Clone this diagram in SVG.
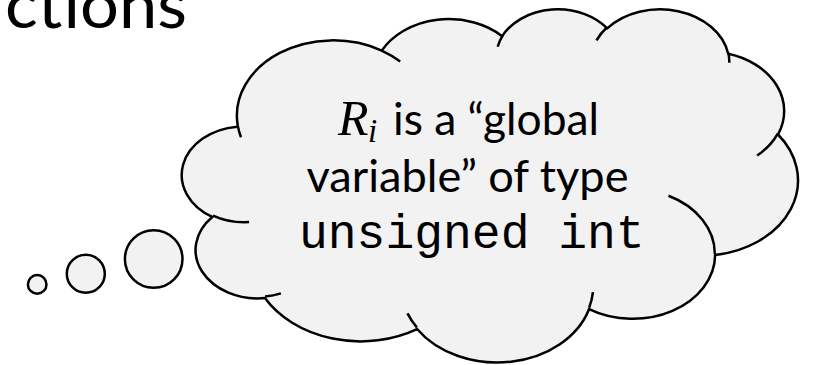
<svg xmlns="http://www.w3.org/2000/svg" width="813" height="365" viewBox="0 0 813 365">
<style>
.shape{fill:#F2F2F2;stroke:#000;stroke-width:2.5;stroke-linejoin:round}
.arc{fill:none;stroke:#000;stroke-width:2.5;stroke-linecap:butt}
.sans{font-family:Lato,"Open Sans","Liberation Sans",sans-serif;fill:#000}
.mono{font-family:"Liberation Mono","Courier New",monospace;fill:#000}
.math{font-family:"Liberation Serif","DejaVu Serif",serif;font-style:italic;fill:#000}
</style>
<rect width="813" height="365" fill="#FFFFFF"/>
<g id="title">
<text class="sans" x="5" y="28.3" font-size="66" textLength="182" lengthAdjust="spacingAndGlyphs">ctions</text>
</g>
<g id="connectors"></g>
<g id="thought-cloud">
<g id="bubbles">
<circle class="shape" cx="37.2" cy="284.4" r="9.3"/>
<circle class="shape" cx="85.8" cy="273.7" r="19"/>
<circle class="shape" cx="153.7" cy="259" r="28.8"/>
</g>
<path class="shape" d="M237.77 125.59 A96.22 75.11 0 0 1 381.76 50.66 A75.99 59.39 0 0 1 502.16 36.2 A62.19 48.59 0 0 1 607.27 28.43 A69.2 53.9 0 0 1 728.17 53.72 A75.99 59.44 0 0 1 778.04 134.5 A96.53 75.36 0 0 1 715.15 255 A82.42 64.3 0 0 1 589.08 309.02 A96.2 75.31 0 0 1 417.03 329.05 A110 86.17 0 0 1 264.92 298.04 A62.12 48.37 0 0 1 212.33 216.95 A61.91 48.59 0 0 1 237.26 126.69 Z"/>
<path class="arc" d="M249.07 222.08 A61.91 48.59 0 0 1 212.97 215.57 M280.91 293.37 A62.12 48.37 0 0 1 265.12 296.49 M416.98 327.62 A96.2 75.31 0 0 1 407.47 313.4 M592.93 292.16 A96.2 75.31 0 0 1 589.13 307.76 M668.47 195.74 A82.42 64.3 0 0 1 714.8 254.06 M777.74 133.63 A75.99 59.44 0 0 1 757.11 155.5 M728.24 52.49 A69.2 53.9 0 0 1 729.33 62.81 M596.5 40.44 A69.2 53.9 0 0 1 607.07 27.27 M497.67 46.72 A62.19 48.59 0 0 1 502.78 35.36 M381.67 50.57 A96.22 75.11 0 0 1 400.18 61.59 M241 137.18 A96.22 75.11 0 0 1 237.77 125.59"/>
<g id="cloud-text">
<text class="math" x="338" y="135" font-size="50">R</text>
<text class="math" x="368" y="142" font-size="33">i</text>
<text class="sans" x="393" y="135" font-size="44" textLength="206" lengthAdjust="spacingAndGlyphs">is a “global</text>
<text class="sans" x="306.5" y="191.7" font-size="44" textLength="322" lengthAdjust="spacingAndGlyphs">variable” of type</text>
<text class="mono" x="299" y="248.3" font-size="48">unsigned int</text>
</g>
</g>
</svg>
